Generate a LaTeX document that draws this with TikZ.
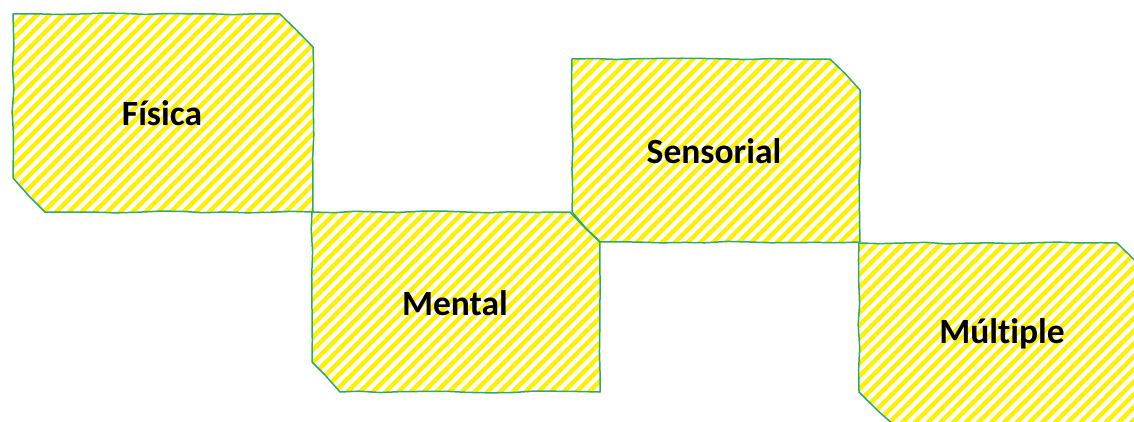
\documentclass[tikz,border=0pt]{standalone}
\usepackage{fontspec}
\setmainfont[Ligatures={NoCommon}]{Carlito}
\usetikzlibrary{patterns.meta,decorations.pathmorphing}
\definecolor{edgegreen}{RGB}{45,170,105}
\definecolor{hatchyellow}{RGB}{255,240,0}
\tikzset{
  hatchfill/.style={pattern={Lines[angle=45,distance=9pt,line width=4.4pt]}, pattern color=hatchyellow},
  sketchedge/.style={draw=edgegreen, line width=1.5pt, line join=round,
    decorate, decoration={random steps, segment length=22pt, amplitude=0.9pt}},
  label/.style={font=\fontsize{35.5}{40}\selectfont\bfseries, text=black, anchor=base, inner sep=0pt}
}
\begin{document}
\begin{tikzpicture}[x=1pt,y=-1pt]
\useasboundingbox (0,0) rectangle (1134,421);
\clip (0,0) rectangle (1134,421);
\pgfmathsetseed{7}
% Fisica
\path[hatchfill] (13,14) -- (280,14) -- (313,47) -- (313,212) -- (45,212) -- (13,178) -- cycle;
\draw[sketchedge] (13,14) -- (280,14) -- (313,47) -- (313,212) -- (45,212) -- (13,178) -- cycle;
% Mental
\path[hatchfill] (312,212) -- (570,212) -- (600,242) -- (600,392) -- (340,392) -- (312,362) -- cycle;
\draw[sketchedge] (312,212) -- (570,212) -- (600,242) -- (600,392) -- (340,392) -- (312,362) -- cycle;
% Sensorial
\path[hatchfill] (572,59) -- (830,59) -- (860,90) -- (860,242) -- (600,242) -- (572,212) -- cycle;
\draw[sketchedge] (572,59) -- (830,59) -- (860,90) -- (860,242) -- (600,242) -- (572,212) -- cycle;
% Multiple
\path[hatchfill] (859,243) -- (1117,243) -- (1150,276) -- (1150,430) -- (895,426) -- (859,392) -- cycle;
\draw[sketchedge] (859,243) -- (1117,243) -- (1150,276) -- (1150,430) -- (895,426) -- (859,392) -- cycle;
% labels
\node[label] (fisica) at (162,125) {Física};
\node[label] (mental) at (455,315) {Mental};
\node[label] (sensorial) at (714,163) {Sensorial};
\node[label] (multiple) at (1002,343) {Múltiple};
\end{tikzpicture}
\end{document}
